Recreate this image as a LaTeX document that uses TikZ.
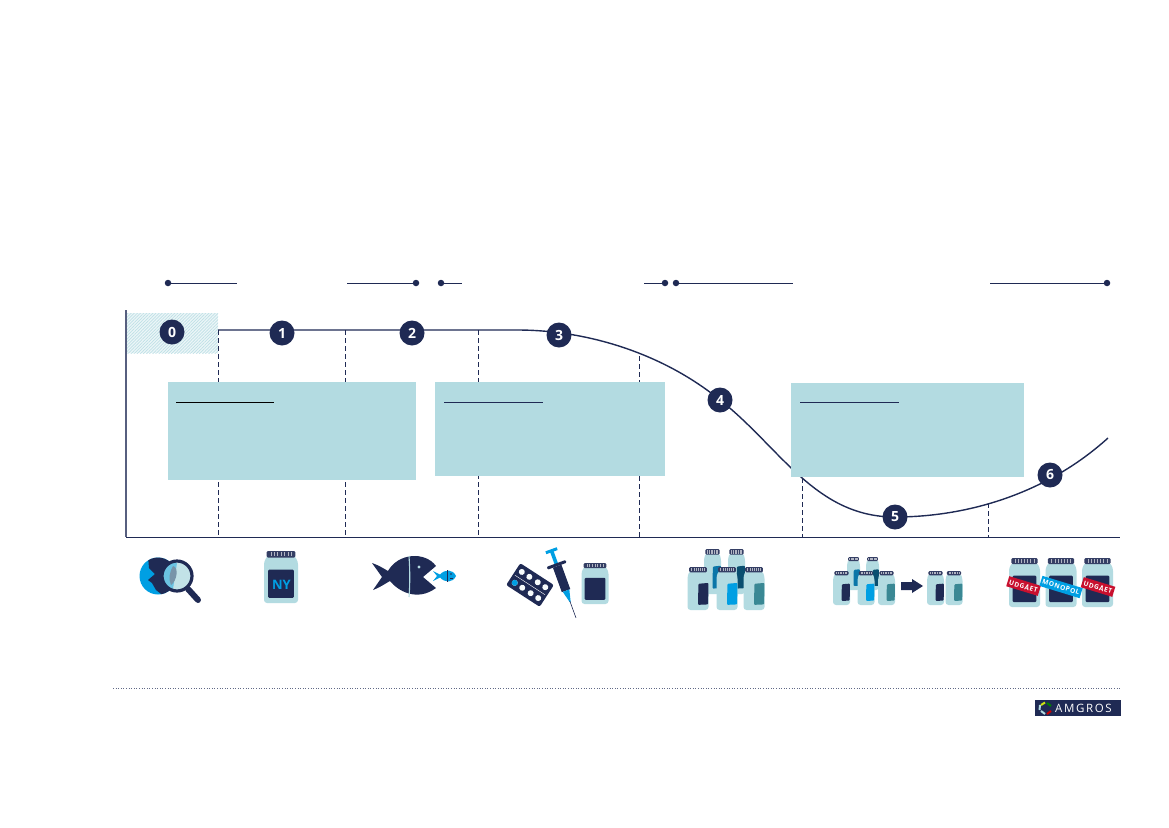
\documentclass[tikz,border=0pt]{standalone}
\usepackage{fontspec}
\setmainfont{Open Sans}
\usetikzlibrary{patterns.meta}
\definecolor{navy}{HTML}{1F2A54}
\definecolor{teal}{HTML}{B3DBE1}
\definecolor{sky}{HTML}{009FE3}
\definecolor{deepteal}{HTML}{3A8894}
\definecolor{midblue}{HTML}{0B76A8}
\definecolor{petrol}{HTML}{0A4F70}
\definecolor{redlab}{HTML}{C8102E}
\newcommand\jarbody[2]{%
  \fill[teal,rounded corners=3pt] ({-#1/2},{#2/2}) -- ({-#1/2},{-#2*0.30}) -- ({-#1*0.38},{-#2*0.42}) -- ({#1*0.38},{-#2*0.42}) -- ({#1/2},{-#2*0.30}) -- ({#1/2},{#2/2}) -- cycle;
  \fill[navy!90,rounded corners=1.2pt] ({-#1*0.42},{-#2/2}) rectangle ({#1*0.42},{-#2*0.375});
  \foreach \k in {-3,...,3}\draw[white!65!navy,line width=.45pt] ({\k*#1*0.1},{-#2*0.475}) -- ({\k*#1*0.1},{-#2*0.40});
}
\tikzset{
  x=1pt,y=-1pt,
  numdot/.style={circle,fill=navy,draw=none,minimum size=25pt,inner sep=0pt,text=white,font=\fontsize{14}{14}\selectfont\bfseries},
  enddot/.style={circle,fill=navy,minimum size=6.5pt,inner sep=0pt},
  spanline/.style={navy,line width=1pt},
  curveline/.style={navy,line width=1.4pt},
  guide/.style={navy,line width=1pt,dash pattern=on 4.5pt off 3.5pt},
  axisline/.style={navy!75,line width=1.2pt},
  infobox/.style={fill=teal,draw=none},
  boxrule/.style={line width=1pt},
  banner/.style={text=white,font=\fontsize{6.6}{7}\selectfont\bfseries\addfontfeature{LetterSpace=8},inner sep=1.8pt,minimum height=10.5pt},
  pics/widejar/.style args={#1/#2}{code={%
    \jarbody{#1}{#2}
    \fill[navy,rounded corners=1pt] ({-#1*0.38},{-#2*0.14}) rectangle ({#1*0.38},{#2*0.40});
  }},
  pics/groupjar/.style args={#1/#2/#3}{code={%
    \jarbody{#1}{#2}
    \fill[#3,rounded corners=1pt] ({#1*0.02},{-#2*0.11}) -- ({#1*0.5},{-#2*0.13}) -- ({#1*0.48},{#2*0.37}) -- ({#1*0.0},{#2*0.38}) -- cycle;
  }},
}
\begin{document}
\begin{tikzpicture}
\useasboundingbox (0,0) rectangle (1169,827);
% hatched field
\fill[teal!25] (126,313) rectangle (218,353);
\fill[pattern={Lines[angle=45,distance=2.2pt,line width=.7pt]},pattern color=teal!85] (126,313) rectangle (218,353);
% axes
\coordinate (axtop) at (126,310);
\coordinate (origin) at (126,537);
\coordinate (axend) at (1120,537);
\draw[axisline] (axtop) -- (origin);
\draw[navy,line width=1pt] (origin) -- (axend);
% guide lines
\foreach \n/\gx/\gy in {a/218/330,b/345/330,c/478/330,d/639/356,e/802/470,f/988/503}{
  \coordinate (g\n t) at (\gx,\gy);
  \coordinate (g\n b) at (\gx,537);
  \draw[guide] (g\n t) -- (g\n b);
}
% curve
\coordinate (c0) at (218,330);
\coordinate (c1) at (517,330);
\coordinate (c2) at (720,400);
\coordinate (c3) at (895,517);
\coordinate (c4) at (1108,438);
\draw[curveline] (c0) -- (c1) .. controls (590,330) and (665,355) .. (c2)
  .. controls (780,447) and (815,517) .. (c3)
  .. controls (965,517) and (1045,495) .. (c4);
% number dots
\node[numdot] (n0) at (172,332) {0};
\node[numdot] (n1) at (282,333) {1};
\node[numdot] (n2) at (412,333) {2};
\node[numdot] (n3) at (559,335) {3};
\node[numdot] (n4) at (720,400) {4};
\node[numdot] (n5) at (895,517) {5};
\node[numdot] (n6) at (1050,475) {6};
% info boxes
\fill[infobox] (168,382) rectangle (416,480);
\draw[boxrule,black] (176,402) -- (274,402);
\fill[infobox] (435,382) rectangle (665,476);
\draw[boxrule,navy] (444,402) -- (543,402);
\fill[infobox] (791,383) rectangle (1024,477);
\draw[boxrule,navy] (800,402) -- (899,402);
% span markers
\node[enddot] (s1a) at (168,283) {};
\coordinate (s1b) at (237,283);
\coordinate (s1c) at (347,283);
\node[enddot] (s1d) at (416,283) {};
\draw[spanline] (s1a) -- (s1b);
\draw[spanline] (s1c) -- (s1d);
\node[enddot] (s2a) at (441,283) {};
\coordinate (s2b) at (462,283);
\coordinate (s2c) at (644,283);
\node[enddot] (s2d) at (665,283) {};
\draw[spanline] (s2a) -- (s2b);
\draw[spanline] (s2c) -- (s2d);
\node[enddot] (s3a) at (676,283) {};
\coordinate (s3b) at (793,283);
\coordinate (s3c) at (990,283);
\node[enddot] (s3d) at (1107,283) {};
\draw[spanline] (s3a) -- (s3b);
\draw[spanline] (s3c) -- (s3d);
% icon 0: globe and lens
\fill[sky] (158,576) circle (18.5);
\begin{scope}
\clip (158,576) circle (18.5);
\fill[navy] (148,556) -- (178,556) -- (178,585) -- (165,597) -- (156,590) -- (152,583) -- (148,580) -- (155,574) -- (149,568) -- cycle;
\end{scope}
\draw[navy,line width=6pt,line cap=round] (188,589) -- (198,600);
\fill[teal!80!white] (177,576) circle (14.5);
\fill[teal!60!sky] (163,571) .. controls (168,561) and (172,562) .. (177,563) -- (173,589) .. controls (166,589) and (163,581) .. (163,571);
\fill[navy!40!teal] (173,566) .. controls (179,567) and (177,581) .. (171,585) .. controls (168,579) and (170,571) .. (173,566);
\draw[navy,line width=3.2pt] (177,576) circle (15);
% icon 1: NY jar
\pic at (281,577) {widejar={34/52}};
\node[font=\fontsize{13}{13}\selectfont\bfseries,text=sky,inner sep=0pt] (ny) at (281.5,585) {NY};
% icon 2: fish
\fill[navy] (372,563) -- (382,577) -- (373,590) .. controls (381,587) and (386,583) .. (390,581)
  .. controls (398,591) and (417,602) .. (436,588) -- (423,577) -- (436,566)
  .. controls (425,551) and (398,553) .. (388,571) .. controls (383,568) and (378,565) .. (372,563) -- cycle;
\draw[teal,line width=1.1pt] (409,556) .. controls (410,570) and (410,585) .. (409,597);
\fill[teal] (419,567) circle (1.7);
\fill[sky] (433,571) -- (437,576) -- (433,581) -- (440,577.5) .. controls (445,583) and (453,583) .. (456,576) .. controls (453,569) and (445,569) .. (440,574.5) -- cycle;
\draw[navy,line width=.7pt] (447,570) -- (447,582);
\fill[navy] (451,574) circle (.8);
\draw[navy,line width=.5pt] (450,578) -- (453,578);
% icon 3: blister, syringe, jar
\begin{scope}[shift={(530,585)},rotate=-33]
\fill[navy,rounded corners=2pt] (-20,-13) rectangle (20,13);
\draw[white,line width=.4pt] (-18,0) -- (18,0);
\foreach \px in {-14,-5,5,14}{\fill[white!90!teal] (\px,-6.5) circle (3);\fill[white!90!teal] (\px,6.5) circle (3);}
\fill[sky] (-14,6.5) circle (3);
\end{scope}
\begin{scope}[shift={(564,585)},rotate=20]
\fill[sky] (-6,-38) rectangle (6,-35);
\fill[sky] (-1.8,-36) rectangle (1.8,-22);
\fill[navy,rounded corners=1pt] (-10,-23) rectangle (10,-20);
\fill[navy] (-4.5,-20) -- (4.5,-20) -- (4.5,6) -- (-4.5,6) -- cycle;
\fill[sky] (-3.5,6) -- (3.5,6) -- (.5,18) -- (-.5,18) -- cycle;
\draw[navy,line width=.6pt] (0,17) -- (0,35);
\end{scope}
\pic at (595,583.5) {widejar={27/41}};
% icon 4: jars
\pic at (712.5,571.5) {groupjar={17/45/midblue}};
\pic at (736.5,571.5) {groupjar={17/45/petrol}};
\pic at (698,588.5) {groupjar={21/43/navy}};
\pic at (727,588.5) {groupjar={21/43/sky}};
\pic at (754,588.5) {groupjar={21/43/deepteal}};
% icon 5: jars, arrow, jars
\pic at (853.5,573.5) {groupjar={13/33/midblue}};
\pic at (872.5,573.5) {groupjar={13/33/petrol}};
\pic at (841.5,588) {groupjar={17/34/navy}};
\pic at (866,588) {groupjar={17/34/sky}};
\pic at (886.5,588) {groupjar={17/34/deepteal}};
\fill[navy] (901,582) -- (912,582) -- (912,579) -- (923,586) -- (912,593) -- (912,590) -- (901,590) -- cycle;
\pic at (935.5,588) {groupjar={17/34/navy}};
\pic at (954,588) {groupjar={17/34/deepteal}};
% icon 6: jars with banners
\pic at (1024.5,582.5) {widejar={31/49}};
\pic at (1061,582.5) {widejar={31/49}};
\pic at (1097.5,582.5) {widejar={31/49}};
\node[banner,fill=redlab,rotate=-17] (u1) at (1023.5,586) {UDGÅET};
\node[banner,fill=sky,rotate=-17] (m1) at (1061,587) {MONOPOL};
\node[banner,fill=redlab,rotate=-17] (u2) at (1098,587) {UDGÅET};
% footer
\coordinate (fl) at (113,688);
\coordinate (fr) at (1120,688);
\draw[navy!70,line width=1pt,dash pattern=on 1pt off 1.6pt] (fl) -- (fr);
\fill[navy] (1035,700) rectangle (1121,716);
\node[text=white,font=\fontsize{11.5}{11.5}\selectfont\addfontfeature{LetterSpace=14},inner sep=0pt,anchor=west] (logo) at (1055,708.2) {AMGROS};
\draw[line width=2pt,yellow!80!green] (1041,705) -- (1045,702.5);
\draw[line width=2pt,teal] (1040,705) -- (1039.5,710);
\draw[line width=2pt,teal] (1041,711) -- (1045,714);
\draw[line width=2pt,red!80!black] (1047,714) -- (1051,711);
\draw[line width=2pt,green!50!black] (1047,703) -- (1051,706);
\end{tikzpicture}
\end{document}
